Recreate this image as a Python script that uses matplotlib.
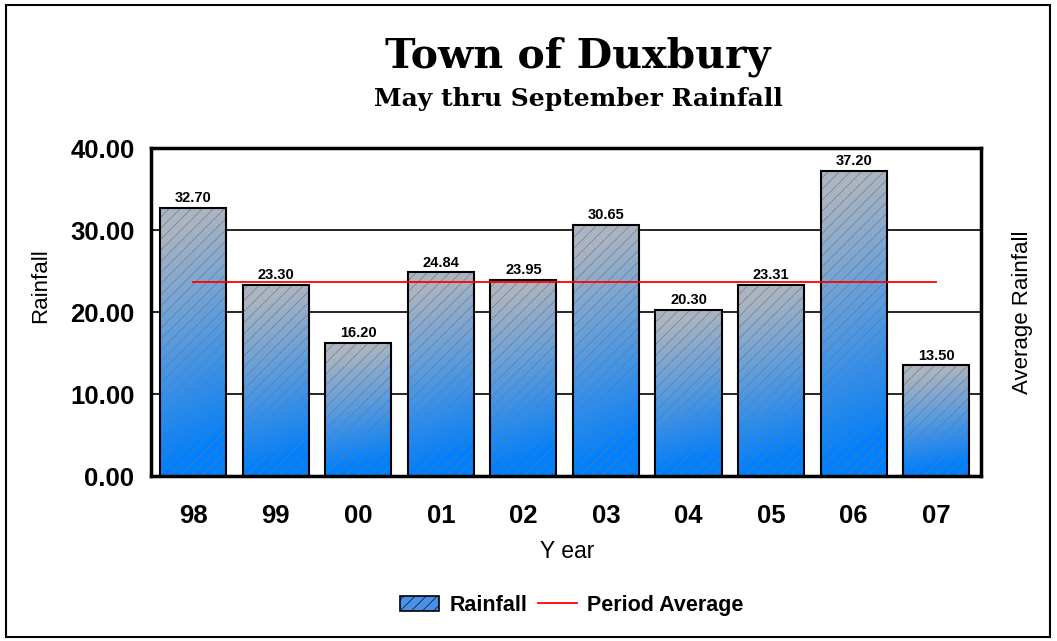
import numpy as np
import matplotlib.pyplot as plt
from matplotlib.patches import Rectangle, Patch
from matplotlib.lines import Line2D

years = ['98', '99', '00', '01', '02', '03', '04', '05', '06', '07']
rainfall = [32.70, 23.30, 16.20, 24.84, 23.95, 30.65, 20.30, 23.31, 37.20, 13.50]
period_avg = 23.65

plt.rcParams['hatch.linewidth'] = 0.45

fig = plt.figure(figsize=(10.57, 6.41), dpi=100)
ax = fig.add_axes([0.1429, 0.2574, 0.785, 0.5117])

x = np.arange(len(years))
w = 0.8

# gradient: grey-blue at top, bright blue at bottom
top_c = np.array([172, 180, 192]) / 255.0
bot_c = np.array([0, 128, 255]) / 255.0
ny, nx = 100, 20
yy = np.linspace(0, 1, ny)[:, None]
xx = np.linspace(0, 1, nx)[None, :]

bars = ax.bar(x, rainfall, width=w, color='none', edgecolor='black', linewidth=1.5, zorder=4)
for b in bars:
    x0, y0 = b.get_x(), b.get_y()
    bw, bh = b.get_width(), b.get_height()
    t = np.clip(1.15 * yy - 0.15 + 0.12 * (1 - xx), 0, 1)
    img = bot_c[None, None, :] * (1 - t[..., None]) + top_c[None, None, :] * t[..., None]
    im = ax.imshow(img, extent=[x0, x0 + bw, y0, y0 + bh], origin='lower',
                   aspect='auto', zorder=2, interpolation='bilinear')
    im.set_clip_path(b)
ax.bar(x, rainfall, width=w, color='none', edgecolor='#667a90', linewidth=0,
       hatch='///', zorder=3)

for xi, v in zip(x, rainfall):
    ax.annotate('%.2f' % v, (xi, v), xytext=(0, 2), textcoords='offset points',
                ha='center', va='bottom', fontsize=10.5, fontweight='bold',
                family='Liberation Sans', zorder=6)

ax.plot([x[0], x[-1]], [period_avg, period_avg], color='red', lw=1.3, zorder=5)

ax.set_xlim(-0.51, 9.54)
ax.set_ylim(0, 40)
ax.set_yticks([0, 10, 20, 30, 40])
ax.set_yticklabels(['%.2f' % v for v in [0, 10, 20, 30, 40]])
ax.set_xticks(x)
ax.set_xticklabels(years)
ax.tick_params(length=0, labelsize=18.5, pad=12)
ax.tick_params(axis='x', pad=20)
for lab in ax.get_xticklabels() + ax.get_yticklabels():
    lab.set_fontweight('bold')
    lab.set_family('Liberation Sans')
ax.yaxis.grid(True, color='black', lw=1.2, zorder=1)
ax.set_axisbelow(True)
for s in ax.spines.values():
    s.set_linewidth(2.5)

fig.text(0.038, 0.555, 'Rainfall', rotation=90, ha='center', va='center',
         fontsize=16, family='Liberation Sans')
fig.text(0.967, 0.513, 'Average Rainfall', rotation=90, ha='center', va='center',
         fontsize=16, family='Liberation Sans')
fig.text(0.537, 0.139, 'Y ear', ha='center', va='center', fontsize=16.5,
         family='Liberation Sans')

fig.text(0.547, 0.911, 'Town of Duxbury', ha='center', va='center', fontsize=29.5,
         family='DejaVu Serif', fontweight='bold')
fig.text(0.547, 0.846, 'May thru September Rainfall', ha='center', va='center',
         fontsize=18, family='DejaVu Serif', fontweight='bold')

handles = [Patch(facecolor='#4a90e8', edgecolor='black', hatch='///', lw=1.2),
           Line2D([], [], color='red', lw=1.3)]
fig.legend(handles, ['Rainfall', 'Period Average'], loc='center', ncol=2,
           bbox_to_anchor=(0.541, 0.056), frameon=False,
           prop={'family': 'Liberation Sans', 'weight': 'bold', 'size': 15.5},
           handlelength=1.8, handletextpad=0.5, columnspacing=0.5)

fig.patches.append(Rectangle((0.006, 0.006), 0.987, 0.986, transform=fig.transFigure,
                             fill=False, edgecolor='black', lw=1.5))

fig.savefig('out.png', dpi=100)
